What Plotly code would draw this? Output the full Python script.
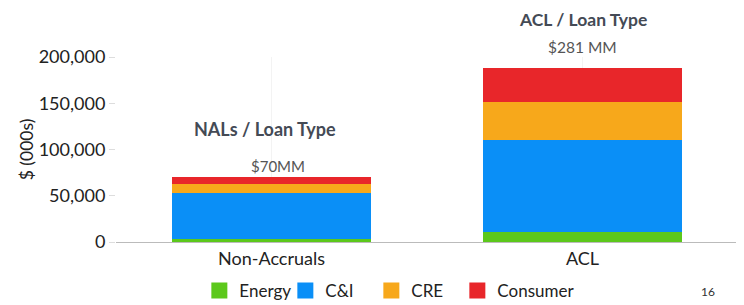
import plotly.graph_objects as go

categories = ["Non-Accruals", "ACL"]
series_names = ["Energy", "C&I", "CRE", "Consumer"]
energy = [3000, 11000]
cni = [50000, 99500]
cre = [10000, 41000]
consumer = [7000, 37000]
series_values = [energy, cni, cre, consumer]
colors = ["#5cc81b", "#0a8ff7", "#f7a81b", "#e8262a"]
y_ticks = [0, 50000, 100000, 150000, 200000]
y_ticklabels = ["0", "50,000", "100,000", "150,000", "200,000"]
totals_labels = ["$70MM", "$281 MM"]
section_titles = ["NALs / Loan Type", "ACL / Loan Type"]

FONT = "Lato"
fig = go.Figure()
for name, vals, col in zip(series_names, series_values, colors):
    fig.add_trace(go.Bar(x=categories, y=vals, name=name, marker=dict(color=col, line=dict(width=0)),
                         width=0.64, showlegend=False))
# legend entries with larger square swatches
for name, col in zip(series_names, colors):
    fig.add_trace(go.Scatter(x=[None], y=[None], mode="markers", name=name,
                             marker=dict(symbol="square", size=16, color=col)))
# invisible spacer entry so the last legend label is not clipped
fig.add_trace(go.Scatter(x=[None], y=[None], mode="markers", name=" ",
                         marker=dict(symbol="square", size=16, color="rgba(0,0,0,0)")))

fig.update_layout(
    barmode="stack",
    width=736, height=297,
    margin=dict(l=108, r=6, t=49, b=63, autoexpand=False),
    paper_bgcolor="white", plot_bgcolor="white",
    font=dict(family=FONT, size=17, color="#222222"),
    showlegend=True,
    legend=dict(orientation="h", x=0.134, xanchor="left", y=-0.265, yanchor="middle",
                font=dict(size=17, color="#222222"), traceorder="normal",
                itemwidth=30, bgcolor="rgba(0,0,0,0)",
                entrywidth=41, entrywidthmode="pixels"),
    xaxis=dict(showgrid=True, gridcolor="#f3f3f3", gridwidth=1, showline=True, linecolor="#bbbbbb",
               tickfont=dict(size=18, color="#222222"), ticks="", range=[-0.5, 1.5]),
    yaxis=dict(range=[0, 200000], tickvals=y_ticks, ticktext=y_ticklabels, showgrid=False,
               zeroline=False, ticks="outside", ticklen=6, tickcolor="#dddddd",
               tickfont=dict(size=18, color="#222222"),
               title=dict(text="$ (000s)", font=dict(size=17.5, color="#222222"), standoff=0)),
)

# section titles and totals
fig.add_annotation(x=0, y=122000, xref="x", yref="y", text="<b>" + section_titles[0] + "</b>",
                   showarrow=False, font=dict(size=18, color="#444a55", family=FONT), xshift=-7)
fig.add_annotation(x=0, y=sum(v[0] for v in series_values), xref="x", yref="y", text=totals_labels[0],
                   showarrow=False, yanchor="bottom", yshift=0, xshift=6,
                   font=dict(size=15, color="#555555", family=FONT))
fig.add_annotation(x=1, y=1.203, xref="x", yref="paper", text="<b>" + section_titles[1] + "</b>",
                   showarrow=False, yanchor="middle", font=dict(size=17.5, color="#444a55", family=FONT))
fig.add_annotation(x=1, y=1.054, xref="x", yref="paper", text=totals_labels[1],
                   showarrow=False, yanchor="middle", font=dict(size=15.5, color="#555555", family=FONT))
fig.add_annotation(x=0.967, y=-0.265, xref="paper", yref="paper", text="16", showarrow=False,
                   yanchor="middle", font=dict(size=12, color="#333333", family=FONT))

fig.write_html("out.html")
